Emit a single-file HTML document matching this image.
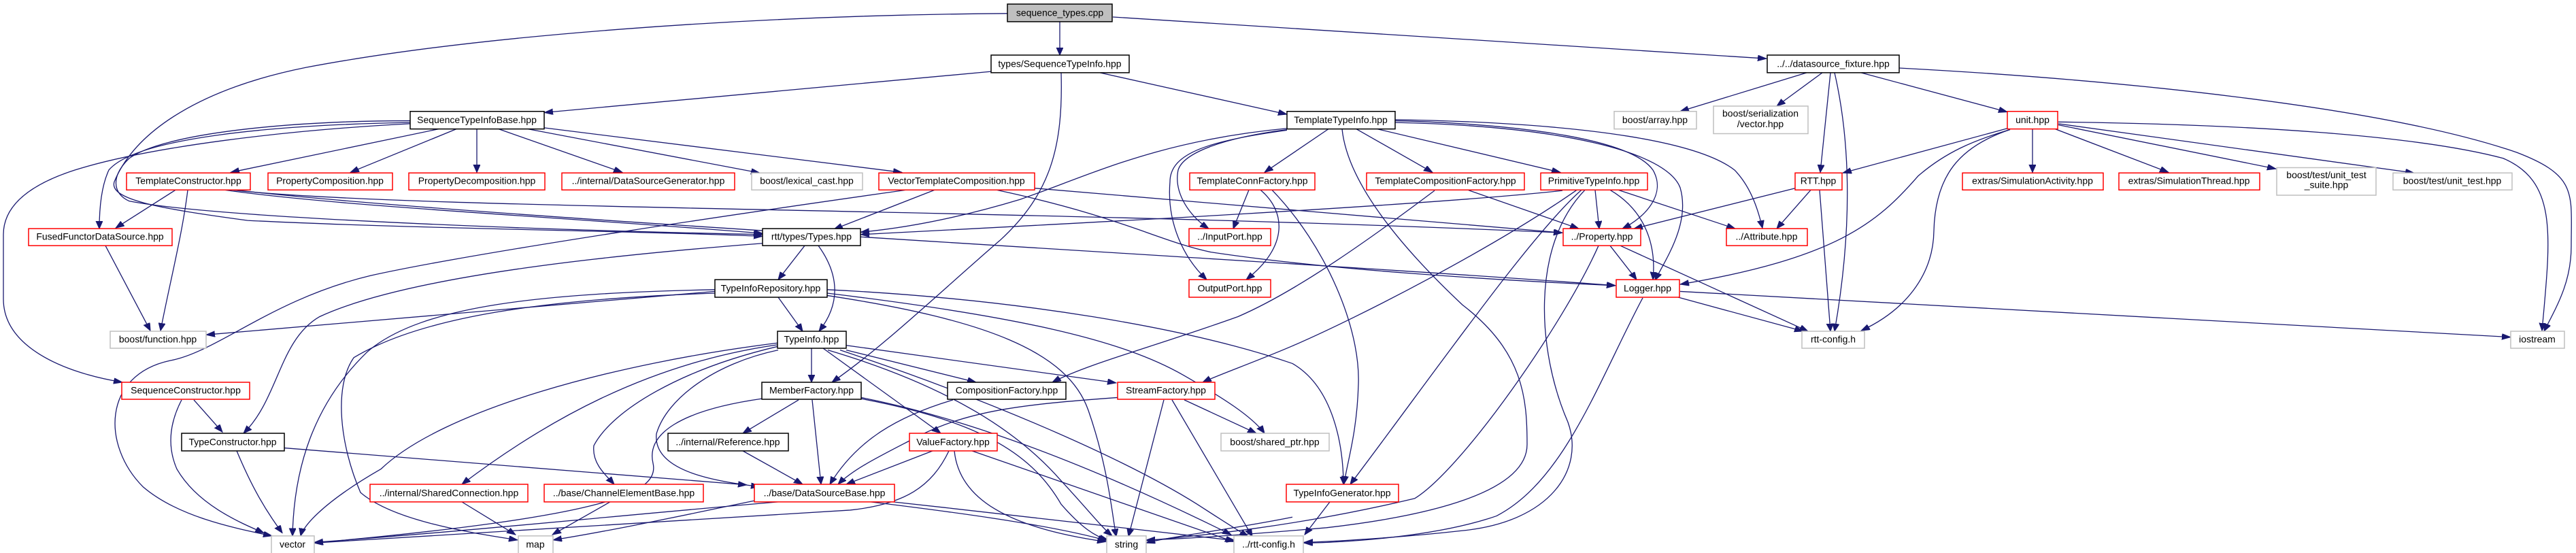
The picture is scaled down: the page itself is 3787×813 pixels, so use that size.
<!DOCTYPE html>
<html><head><meta charset="utf-8"><style>
html,body{margin:0;padding:0;background:#fff;overflow:hidden}
svg{display:block}
text{font-family:"Liberation Sans","DejaVu Sans",sans-serif;font-size:14px;fill:#000;text-anchor:middle}
.e{fill:none;stroke:#191970;stroke-width:1.3}
.e path{vector-effect:non-scaling-stroke}
rect{vector-effect:non-scaling-stroke}
.b{fill:#fff;stroke:#000;stroke-width:1.5}
.r{fill:#fff;stroke:#ff0000;stroke-width:1.5}
.g{fill:#fff;stroke:#bfbfbf;stroke-width:1.5}
</style></head><body>
<svg width="3787" height="813" viewBox="0 0 3787 813" xmlns="http://www.w3.org/2000/svg">
<defs><marker id="a" markerUnits="userSpaceOnUse" markerWidth="14" markerHeight="12" refX="13" refY="5" orient="auto"><path d="M0,0 L13,5 L0,10 z" fill="#191970" stroke="#191970"/></marker></defs>
<g transform="scale(1,0.862)">
<g class="e" marker-end="url(#a)">
<path d="M1558,37 L1558,94"/>
<path d="M1636,29 C1900,48 2300,78 2597,100"/>
<path d="M1481,23 C1100,26 700,60 450,115 C300,150 200,220 168,310 C160,340 230,355 364,376 C600,390 950,394 1121,403"/>
<path d="M1560,124 C1563,250 1545,330 1470,410 C1380,500 1300,590 1223,652"/>
<path d="M1457,122 L800,192"/>
<path d="M1617,124 L1892,195"/>
<path d="M645,220 L339,294"/>
<path d="M671,220 L515,294"/>
<path d="M701,220 L701,294"/>
<path d="M733,220 L915,294"/>
<path d="M776,220 L1117,295"/>
<path d="M800,218 L1326,294"/>
<path d="M603,209 C400,213 200,235 160,290 C148,320 146,360 146,390"/>
<path d="M603,211 C420,222 220,250 110,290 C30,320 5,360 5,400 L5,510 C5,590 90,635 180,652"/>
<path d="M603,206 C420,206 240,228 190,270 C163,300 165,330 190,343 C300,368 700,390 1121,400"/>
<path d="M258,324 L170,389"/>
<path d="M276,324 C268,400 250,480 236,564"/>
<path d="M330,324 C500,352 800,368 1121,398"/>
<path d="M340,324 C600,358 1500,355 2297,397"/>
<path d="M345,324 C700,372 1900,445 2375,487"/>
<path d="M155,419 L221,564"/>
<path d="M1374,324 L1226,391"/>
<path d="M1332,324 C1100,362 700,430 545,470 C400,510 320,600 250,615 C150,640 150,760 210,830 C260,880 340,900 400,914"/>
<path d="M1521,321 L2297,397"/>
<path d="M1465,324 C1650,370 1700,410 1780,430 C1950,460 2200,478 2375,487"/>
<path d="M1953,220 L1859,294"/>
<path d="M1994,220 L2106,294"/>
<path d="M2021,219 L2294,294"/>
<path d="M1892,219 C1700,240 1600,300 1500,340 C1400,375 1320,390 1265,396"/>
<path d="M1892,221 C1800,235 1740,260 1732,290 C1725,330 1750,370 1777,390"/>
<path d="M1892,222 C1780,240 1720,260 1720,310 C1715,380 1740,440 1774,477"/>
<path d="M2051,206 C2250,212 2400,240 2430,290 C2450,330 2420,370 2385,390"/>
<path d="M2051,209 C2300,215 2450,260 2470,320 C2485,380 2450,440 2433,478"/>
<path d="M2051,204 C2350,210 2500,245 2550,290 C2575,320 2585,360 2591,389"/>
<path d="M1973,220 C1980,300 2040,400 2150,520 C2240,600 2245,680 2245,758 C2245,840 2100,880 1950,900 C1800,915 1720,920 1685,921"/>
<path d="M1870,324 C1950,420 2000,560 1997,655 C1995,740 1980,790 1976,825"/>
<path d="M1836,324 L1813,390"/>
<path d="M1853,324 C1890,360 1895,420 1832,477"/>
<path d="M2158,324 L2321,390"/>
<path d="M2109,325 C2000,420 1900,500 1820,540 C1700,590 1600,620 1547,652"/>
<path d="M2297,325 C2100,350 1600,380 1265,400"/>
<path d="M2345,324 L2351,390"/>
<path d="M2367,324 C2420,360 2435,420 2430,477"/>
<path d="M2379,324 L2551,390"/>
<path d="M2318,324 C2200,420 2000,540 1900,590 C1850,615 1790,640 1768,652"/>
<path d="M2325,324 C2250,400 2100,650 1985,826"/>
<path d="M2330,324 C2250,420 2260,600 2305,720 C2330,800 2280,890 2150,905 C2050,918 1950,924 1917,925"/>
<path d="M2656,124 L2470,190"/>
<path d="M2679,124 L2612,181"/>
<path d="M2691,124 L2676,294"/>
<path d="M2697,124 C2722,250 2722,400 2697,565"/>
<path d="M2736,124 L2951,191"/>
<path d="M2792,116 C3100,135 3500,180 3700,260 C3790,300 3780,330 3780,420 C3780,480 3760,520 3740,565"/>
<path d="M2988,220 L2988,294"/>
<path d="M3019,219 L3188,294"/>
<path d="M3026,213 L3346,288"/>
<path d="M3026,211 L3549,295"/>
<path d="M3026,208 C3300,212 3550,230 3680,270 C3760,310 3750,400 3737,564"/>
<path d="M2951,219 L2709,295"/>
<path d="M2955,221 C2900,240 2860,260 2820,300 C2760,380 2700,440 2470,485"/>
<path d="M2955,221 C2880,250 2845,300 2843,394 C2842,470 2800,530 2736,564"/>
<path d="M2639,321 L2402,390"/>
<path d="M2662,324 L2612,390"/>
<path d="M2675,324 L2691,565"/>
<path d="M2367,419 L2406,477"/>
<path d="M2382,419 L2658,565"/>
<path d="M2350,419 C2300,550 2150,800 2080,850 C1900,900 1750,915 1685,922"/>
<path d="M2467,507 L2651,565"/>
<path d="M2470,497 L3691,575"/>
<path d="M2415,508 C2350,650 2300,820 2200,880 C2100,920 1950,926 1917,926"/>
<path d="M1183,419 L1144,477"/>
<path d="M1203,419 C1235,470 1235,520 1204,565"/>
<path d="M1121,415 C900,435 600,470 470,540 C410,580 410,680 358,739"/>
<path d="M1144,507 L1180,565"/>
<path d="M1051,497 L303,571"/>
<path d="M1051,494 C800,500 620,520 540,600 C460,690 432,800 430,914"/>
<path d="M1051,500 C800,510 620,540 520,610 C490,660 500,760 530,840 C580,890 700,910 761,921"/>
<path d="M1216,504 C1450,545 1570,600 1600,700 C1630,800 1635,880 1641,915"/>
<path d="M1216,500 C1500,540 1650,580 1740,640 C1800,680 1840,710 1859,739"/>
<path d="M1216,494 C1500,510 1750,560 1900,620 C1960,660 1975,760 1975,826"/>
<path d="M1193,594 L1193,652"/>
<path d="M1244,597 L1435,652"/>
<path d="M1244,589 L1641,653"/>
<path d="M1210,594 L1383,739"/>
<path d="M1217,597 C1400,660 1500,740 1560,820 C1600,870 1620,900 1635,914"/>
<path d="M1235,597 C1450,680 1650,780 1760,860 C1800,890 1820,905 1835,915"/>
<path d="M1144,597 C1050,620 980,680 965,740 C960,800 1040,820 1117,830"/>
<path d="M1143,585 C900,620 650,700 560,800 C470,860 445,900 442,914"/>
<path d="M1143,588 C950,620 800,720 679,826"/>
<path d="M1143,591 C1000,630 900,700 873,760 C870,790 890,810 903,826"/>
<path d="M1174,682 L1092,739"/>
<path d="M1194,682 L1207,826"/>
<path d="M1266,680 C1450,720 1520,780 1560,860 C1590,900 1610,915 1629,921"/>
<path d="M1266,678 C1450,720 1650,820 1810,912"/>
<path d="M1120,680 C1000,700 950,740 960,790 C970,840 900,880 462,926"/>
<path d="M1401,682 C1320,710 1260,750 1220,826"/>
<path d="M1643,678 C1500,690 1420,700 1340,750 C1290,780 1255,800 1232,826"/>
<path d="M1741,682 L1847,739"/>
<path d="M1711,682 L1659,915"/>
<path d="M1723,682 L1841,915"/>
<path d="M1371,769 L1244,826"/>
<path d="M1403,769 C1410,850 1480,900 1626,924"/>
<path d="M1429,769 L1814,924"/>
<path d="M1395,769 C1370,830 1330,860 1250,870 C900,895 600,915 462,926"/>
<path d="M1092,769 L1180,826"/>
<path d="M418,764 L1098,827"/>
<path d="M348,769 C370,830 390,870 415,909"/>
<path d="M285,682 L327,737"/>
<path d="M267,682 C250,720 245,760 260,800 C290,860 350,890 388,909"/>
<path d="M679,856 L758,912"/>
<path d="M897,856 L812,912"/>
<path d="M1144,856 C900,880 700,905 462,925"/>
<path d="M1109,854 C1000,880 900,905 813,921"/>
<path d="M1280,856 C1450,880 1560,900 1627,922"/>
<path d="M1313,856 C1500,880 1700,905 1816,922"/>
<path d="M1900,882 C1800,905 1720,915 1685,926"/>
<path d="M1955,856 L1918,912"/>
</g>
<g>
<rect class="b" x="1481" y="7" width="154" height="30" style="fill:#bfbfbf"/><text transform="translate(1558,27) scale(1,1.16)">sequence_types.cpp</text>
<rect class="b" x="1457" y="94" width="203" height="30"/><text transform="translate(1558,114) scale(1,1.16)">types/SequenceTypeInfo.hpp</text>
<rect class="b" x="2598" y="94" width="194" height="30"/><text transform="translate(2695,114) scale(1,1.16)">../../datasource_fixture.hpp</text>
<rect class="b" x="603" y="190" width="197" height="30"/><text transform="translate(701,210) scale(1,1.16)">SequenceTypeInfoBase.hpp</text>
<rect class="b" x="1892" y="190" width="159" height="30"/><text transform="translate(1971,210) scale(1,1.16)">TemplateTypeInfo.hpp</text>
<rect class="g" x="2373" y="190" width="121" height="30"/><text transform="translate(2433,210) scale(1,1.16)">boost/array.hpp</text>
<rect class="g" x="2519" y="181" width="139" height="47"/><text transform="translate(2588,199) scale(1,1.16)">boost/serialization</text><text transform="translate(2588,217) scale(1,1.16)">/vector.hpp</text>
<rect class="r" x="2951" y="190" width="74" height="30"/><text transform="translate(2988,210) scale(1,1.16)">unit.hpp</text>
<rect class="r" x="186" y="295" width="182" height="29"/><text transform="translate(277,314) scale(1,1.16)">TemplateConstructor.hpp</text>
<rect class="r" x="394" y="295" width="183" height="29"/><text transform="translate(485,314) scale(1,1.16)">PropertyComposition.hpp</text>
<rect class="r" x="601" y="295" width="200" height="29"/><text transform="translate(701,314) scale(1,1.16)">PropertyDecomposition.hpp</text>
<rect class="r" x="826" y="295" width="254" height="29"/><text transform="translate(953,314) scale(1,1.16)">../internal/DataSourceGenerator.hpp</text>
<rect class="g" x="1105" y="295" width="163" height="29"/><text transform="translate(1186,314) scale(1,1.16)">boost/lexical_cast.hpp</text>
<rect class="r" x="1292" y="295" width="229" height="29"/><text transform="translate(1406,314) scale(1,1.16)">VectorTemplateComposition.hpp</text>
<rect class="r" x="1749" y="295" width="184" height="29"/><text transform="translate(1841,314) scale(1,1.16)">TemplateConnFactory.hpp</text>
<rect class="r" x="2009" y="295" width="232" height="29"/><text transform="translate(2125,314) scale(1,1.16)">TemplateCompositionFactory.hpp</text>
<rect class="r" x="2265" y="295" width="157" height="29"/><text transform="translate(2343,314) scale(1,1.16)">PrimitiveTypeInfo.hpp</text>
<rect class="r" x="2639" y="295" width="69" height="29"/><text transform="translate(2673,314) scale(1,1.16)">RTT.hpp</text>
<rect class="r" x="2885" y="295" width="207" height="29"/><text transform="translate(2988,314) scale(1,1.16)">extras/SimulationActivity.hpp</text>
<rect class="r" x="3115" y="295" width="207" height="29"/><text transform="translate(3218,314) scale(1,1.16)">extras/SimulationThread.hpp</text>
<rect class="g" x="3347" y="286" width="146" height="47"/><text transform="translate(3420,304) scale(1,1.16)">boost/test/unit_test</text><text transform="translate(3420,321) scale(1,1.16)">_suite.hpp</text>
<rect class="g" x="3518" y="295" width="175" height="29"/><text transform="translate(3605,314) scale(1,1.16)">boost/test/unit_test.hpp</text>
<rect class="r" x="42" y="390" width="211" height="29"/><text transform="translate(147,409) scale(1,1.16)">FusedFunctorDataSource.hpp</text>
<rect class="b" x="1121" y="390" width="144" height="29"/><text transform="translate(1193,409) scale(1,1.16)">rtt/types/Types.hpp</text>
<rect class="r" x="1748" y="390" width="120" height="29"/><text transform="translate(1808,409) scale(1,1.16)">../InputPort.hpp</text>
<rect class="r" x="2298" y="390" width="114" height="29"/><text transform="translate(2355,409) scale(1,1.16)">../Property.hpp</text>
<rect class="r" x="2538" y="390" width="119" height="29"/><text transform="translate(2597,409) scale(1,1.16)">../Attribute.hpp</text>
<rect class="b" x="1051" y="477" width="165" height="30"/><text transform="translate(1133,497) scale(1,1.16)">TypeInfoRepository.hpp</text>
<rect class="r" x="1748" y="477" width="120" height="30"/><text transform="translate(1808,497) scale(1,1.16)">OutputPort.hpp</text>
<rect class="r" x="2376" y="477" width="93" height="30"/><text transform="translate(2422,497) scale(1,1.16)">Logger.hpp</text>
<rect class="g" x="162" y="565" width="141" height="29"/><text transform="translate(232,584) scale(1,1.16)">boost/function.hpp</text>
<rect class="b" x="1143" y="565" width="101" height="29"/><text transform="translate(1193,584) scale(1,1.16)">TypeInfo.hpp</text>
<rect class="g" x="2649" y="565" width="92" height="29"/><text transform="translate(2695,584) scale(1,1.16)">rtt-config.h</text>
<rect class="g" x="3691" y="565" width="79" height="29"/><text transform="translate(3730,584) scale(1,1.16)">iostream</text>
<rect class="r" x="179" y="652" width="188" height="29"/><text transform="translate(273,671) scale(1,1.16)">SequenceConstructor.hpp</text>
<rect class="b" x="1120" y="652" width="146" height="29"/><text transform="translate(1193,671) scale(1,1.16)">MemberFactory.hpp</text>
<rect class="b" x="1393" y="652" width="174" height="29"/><text transform="translate(1480,671) scale(1,1.16)">CompositionFactory.hpp</text>
<rect class="r" x="1643" y="652" width="143" height="29"/><text transform="translate(1714,671) scale(1,1.16)">StreamFactory.hpp</text>
<rect class="b" x="267" y="739" width="151" height="30"/><text transform="translate(342,759) scale(1,1.16)">TypeConstructor.hpp</text>
<rect class="b" x="982" y="739" width="177" height="30"/><text transform="translate(1070,759) scale(1,1.16)">../internal/Reference.hpp</text>
<rect class="r" x="1337" y="739" width="129" height="30"/><text transform="translate(1401,759) scale(1,1.16)">ValueFactory.hpp</text>
<rect class="g" x="1795" y="739" width="159" height="30"/><text transform="translate(1874,759) scale(1,1.16)">boost/shared_ptr.hpp</text>
<rect class="r" x="544" y="826" width="232" height="30"/><text transform="translate(660,846) scale(1,1.16)">../internal/SharedConnection.hpp</text>
<rect class="r" x="800" y="826" width="234" height="30"/><text transform="translate(917,846) scale(1,1.16)">../base/ChannelElementBase.hpp</text>
<rect class="r" x="1109" y="826" width="206" height="30"/><text transform="translate(1212,846) scale(1,1.16)">../base/DataSourceBase.hpp</text>
<rect class="r" x="1891" y="826" width="165" height="30"/><text transform="translate(1973,846) scale(1,1.16)">TypeInfoGenerator.hpp</text>
<rect class="g" x="399" y="914" width="63" height="30"/><text transform="translate(430,934) scale(1,1.16)">vector</text>
<rect class="g" x="762" y="914" width="51" height="30"/><text transform="translate(787,934) scale(1,1.16)">map</text>
<rect class="g" x="1627" y="914" width="58" height="30"/><text transform="translate(1656,934) scale(1,1.16)">string</text>
<rect class="g" x="1814" y="914" width="102" height="30"/><text transform="translate(1865,934) scale(1,1.16)">../rtt-config.h</text>
</g>
</g>
</svg>
</body></html>
